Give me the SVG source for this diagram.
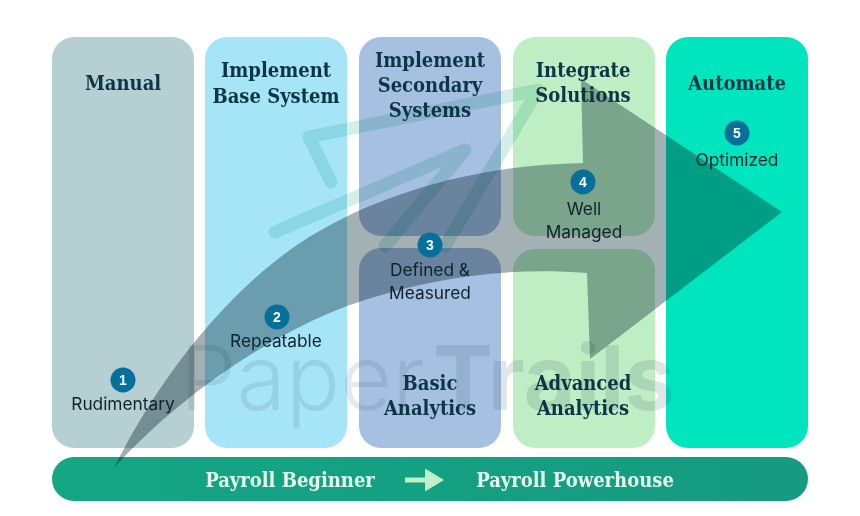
<svg xmlns="http://www.w3.org/2000/svg" width="860" height="516" viewBox="0 0 860 516">
<defs>
<linearGradient id="bar" x1="0" x2="1" y1="0" y2="0"><stop offset="0" stop-color="#13a684"/><stop offset="1" stop-color="#169a80"/></linearGradient>
</defs>
<style>
.card{stroke:none}
.t{font-family:"DejaVu Serif","Liberation Serif",serif;font-stretch:condensed;font-weight:700;font-size:20px;fill:#0c3546;text-anchor:middle}
.l{font-family:"Inter","Liberation Sans",sans-serif;font-size:17.300px;fill:#10222c;text-anchor:middle}
.b{fill:#086f9a}
.n{font-family:"Liberation Sans",sans-serif;font-weight:700;font-size:14px;fill:#f2fbff;text-anchor:middle}
.p{font-family:"DejaVu Serif","Liberation Serif",serif;font-stretch:condensed;font-weight:700;font-size:20px;fill:#e6f8ee;text-anchor:middle}
.w{font-family:"Inter","Liberation Sans",sans-serif;font-size:90px;fill:#3a5560}
.m{fill:none;stroke:#d4efe9;stroke-width:13;stroke-linecap:round;stroke-linejoin:round;mix-blend-mode:multiply}
</style>
<g id="card-backgrounds">
<rect class="card" x="52" y="37" width="142" height="411" rx="22" fill="#b5cfd2"/>
<rect class="card" x="205" y="37" width="142" height="411" rx="22" fill="#a6e5f8"/>
<rect class="card" x="359" y="37" width="142" height="199" rx="22" fill="#a6c0e2"/>
<rect class="card" x="359" y="248" width="142" height="200" rx="22" fill="#a6c0e2"/>
<rect class="card" x="513" y="37" width="142" height="199" rx="22" fill="#bfeec5"/>
<rect class="card" x="513" y="249" width="142" height="199" rx="22" fill="#bfeec5"/>
<rect class="card" x="666" y="37" width="142" height="411" rx="22" fill="#00e5bd"/>
</g>
<g id="watermark">
<path class="m" d="M331,182 L309,137 L538,90 L445,246"/>
<path class="m" d="M275,232 L465,150 L385,246"/>
<text class="w" x="180" y="410" font-weight="300" opacity=".13">Paper</text>
<text class="w" x="433" y="410" font-weight="700" opacity=".15">Trails</text>
</g>
<g id="footer">
<rect x="52" y="457" width="756" height="44" rx="22" fill="url(#bar)"/>
<text class="p" x="290" y="487">Payroll Beginner</text>
<path d="M405,477.500 H425 V468.500 L444,480 L425,491.500 V482.500 H405 Z" fill="#c0f0c8"/>
<text class="p" x="575" y="487">Payroll Powerhouse</text>
</g>
<g id="connectors">
<path id="growth-arrow" d="M114,468 C150,395 215,300 300,243 C370,197 470,165 583,163 L581,79 L782,212 L590,359 L587,273 C500,266 420,280 347,306 C270,335 180,395 114,468 Z" fill="#a3b0b4" style="mix-blend-mode:multiply"/>
</g>
<g id="manual"><text class="t" x="123" y="90">Manual</text><circle class="b" cx="123" cy="380" r="12.500"/><text class="n" x="123" y="385">1</text><text class="l" x="123" y="410">Rudimentary</text></g>
<g id="base-system"><text class="t" x="276" y="77">Implement</text><text class="t" x="276" y="103">Base System</text><circle class="b" cx="277" cy="317" r="12.500"/><text class="n" x="277" y="322">2</text><text class="l" x="276" y="347">Repeatable</text></g>
<g id="secondary-systems"><text class="t" x="430" y="67">Implement</text><text class="t" x="430" y="92">Secondary</text><text class="t" x="430" y="117">Systems</text><circle class="b" cx="430" cy="245" r="12.500"/><text class="n" x="430" y="250">3</text><text class="l" x="430" y="276">Defined &amp;</text><text class="l" x="430" y="299">Measured</text></g>
<g id="integrate-solutions"><text class="t" x="583" y="77">Integrate</text><text class="t" x="583" y="102">Solutions</text><circle class="b" cx="583" cy="182" r="12.500"/><text class="n" x="583" y="187">4</text><text class="l" x="584" y="215">Well</text><text class="l" x="584" y="238">Managed</text></g>
<g id="automate"><text class="t" x="737" y="90">Automate</text><circle class="b" cx="737" cy="133" r="12.500"/><text class="n" x="737" y="138">5</text><text class="l" x="737" y="166">Optimized</text></g>
<g id="basic-analytics"><text class="t" x="430" y="390">Basic</text><text class="t" x="430" y="415">Analytics</text></g>
<g id="advanced-analytics"><text class="t" x="583" y="390">Advanced</text><text class="t" x="583" y="415">Analytics</text></g>
</svg>
